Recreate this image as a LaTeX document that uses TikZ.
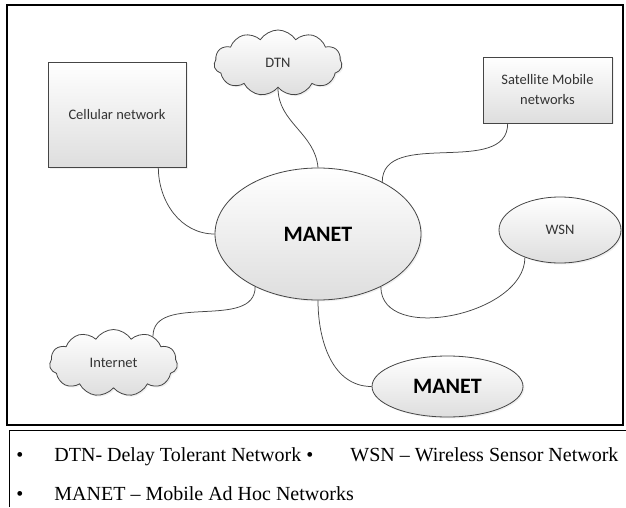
\documentclass[tikz,border=0pt]{standalone}
\usepackage{fontspec}
\setmainfont{Carlito}
\newfontfamily\keyfont[Ligatures=TeX]{Liberation Serif}
\usetikzlibrary{shapes.geometric, shapes.symbols, shadows}
\definecolor{cline}{HTML}{454545}
\definecolor{ctext}{HTML}{333333}
\tikzset{
  every picture/.style={line width=0.8pt},
  net/.style={draw=cline, top color=white, bottom color=black!13, text=ctext, align=center,
    font=\fontsize{14.5}{20}\selectfont, drop shadow={opacity=0.12, shadow xshift=1.5pt, shadow yshift=-1.5pt}},
  hub/.style={net, ellipse, text=black, font=\bfseries\fontsize{22}{26}\selectfont},
  link/.style={draw=cline, line width=0.75pt},
  key/.style={font=\keyfont\fontsize{20}{24}\selectfont, anchor=base west, inner sep=0pt},
}

\begin{document}
\begin{tikzpicture}[x=1pt, y=1pt,
  box/.style={net, rectangle, inner sep=0pt},
  puff/.style={net, cloud, cloud puffs=11, cloud puff arc=115, aspect=2, inner sep=0pt}]
  \useasboundingbox (0,0) rectangle (626,507);
  % frame of the diagram and of the key below it
  \draw[line width=1.3pt] (7,82) rectangle (623,502);
  \draw[line width=1pt] (9,0) -- (9,77) -- (626,77);

  \node[box, minimum width=138pt, minimum height=105pt] (cell) at (117,392.5) {Cellular network};
  \node[puff, minimum width=128pt, minimum height=66pt] (dtn) at (278,444) {DTN};
  \node[box, minimum width=129pt, minimum height=66pt] (sat) at (547.5,417) {Satellite Mobile\\networks};
  \node[hub, minimum width=206pt, minimum height=132pt] (manet) at (318,273) {MANET};
  \node[net, ellipse, minimum width=122pt, minimum height=66pt] (wsn) at (560,277) {WSN};
  \node[hub, minimum width=151pt, minimum height=61pt] (manet2) at (447.5,120.5) {MANET};
  \node[puff, minimum width=128pt, minimum height=67pt] (inet) at (113.5,144) {Internet};

  \draw[link] (cell.-52) to[out=-90, in=180] (manet.west);
  \draw[link] (dtn.south) to[out=-90, in=95] (manet.north);
  \draw[link] (sat.220) to[out=-90, in=90] (manet.39);
  \draw[link] (manet.-40) to[out=-90, in=-90] (wsn.218);
  \draw[link] (manet.south) to[out=-90, in=180] (manet2.west);
  \draw[link] (inet.34) to[out=90, in=-90] (manet.220);

  % key
  \node[key] (b1) at (16,46) {\textbullet};
  \node[key] (k1) at (54,46) {DTN- Delay Tolerant Network \textbullet};
  \node[key] (k2) at (350,46) {WSN -- Wireless Sensor Network};
  \node[key] (b2) at (16,7) {\textbullet};
  \node[key] (k3) at (54,7) {MANET -- Mobile Ad Hoc Networks};
\end{tikzpicture}
\end{document}
